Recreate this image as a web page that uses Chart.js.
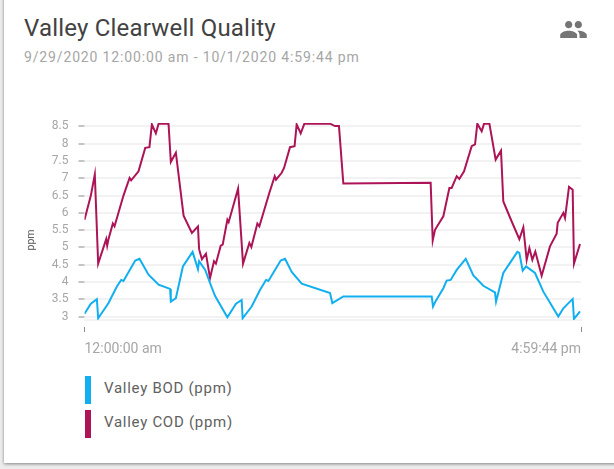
<!DOCTYPE html>
<html><head><meta charset="utf-8">
<script src="https://cdn.jsdelivr.net/npm/chart.js@4"></script>
<style>
html,body{margin:0;padding:0;width:614px;height:469px;overflow:hidden;background:#ececec;font-family:Roboto,sans-serif}
#card{position:absolute;left:4px;top:-4px;width:620px;height:467px;background:#fff;box-shadow:0 1px 3px rgba(0,0,0,.45)}
.abs{position:absolute;white-space:nowrap}
#title{left:24px;top:14px;font-size:24px;line-height:28px;color:#424242;letter-spacing:.2px}
#sub{left:24px;top:49px;font-size:14px;line-height:17px;color:#a6a6a6;letter-spacing:.85px}
#icon{left:559px;top:15px}
#chartbox{position:absolute;left:0;top:100px;width:614px;height:270px}
#ylab{left:20px;top:233px;width:22px;text-align:center;font-size:10.5px;line-height:14px;color:#555;transform:rotate(-90deg)}
.sw{position:absolute;left:85px;width:6px;height:28px}
.lg{left:104px;font-size:15px;line-height:20px;color:#616161;letter-spacing:.72px}
</style></head><body>
<div id="card"></div>
<div class="abs" id="title">Valley Clearwell Quality</div>
<div class="abs" id="sub">9/29/2020 12:00:00 am - 10/1/2020 4:59:44 pm</div>
<svg class="abs" id="icon" width="29" height="29" viewBox="0 0 24 24"><path fill="#757575" d="M16 11c1.66 0 2.99-1.34 2.99-3S17.66 5 16 5c-1.66 0-3 1.34-3 3s1.34 3 3 3zm-8 0c1.66 0 2.99-1.34 2.99-3S9.66 5 8 5C6.34 5 5 6.34 5 8s1.34 3 3 3zm0 2c-2.33 0-7 1.17-7 3.5V19h14v-2.5c0-2.33-4.67-3.5-7-3.5zm8 0c-.29 0-.62.02-.97.05 1.16.84 1.97 1.97 1.97 3.45V19h6v-2.5c0-2.33-4.67-3.5-7-3.5z"/></svg>
<div id="chartbox"><canvas id="c" width="614" height="270"></canvas></div>
<div class="abs" id="ylab">ppm</div>
<div id="legend"></div>
<script>
const bodHours=[0,.83,1.62,1.79,2.84,3.14,4.24,4.8,5.1,6.64,7.2,8.38,9.7,11.2,11.3,11.96,12.88,14.15,14.85,15,15.8,16.43,17.08,18.7,19.83,20.57,20.7,21.88,22.97,23.76,24.07,25.68,26.25,27.12,28.43,32.14,32.44,33.88,45.45,45.62,46,46.97,47.4,47.93,48.72,49.9,50.9,52.2,53.73,53.87,54.82,56.66,56.92,57.36,57.8,58.97,60.06,62.02,62.68,63.9,64.07,64.86];
const bodValues=[3.08,3.37,3.5,2.95,3.29,3.39,3.87,4.06,4.03,4.62,4.67,4.21,3.92,3.8,3.43,3.53,4.45,4.87,4.37,4.6,4.35,3.97,3.6,2.98,3.37,3.48,2.95,3.29,3.77,4.06,4.03,4.62,4.67,4.29,3.95,3.68,3.39,3.58,3.58,3.29,3.46,3.82,4.04,4.06,4.35,4.67,4.19,3.89,3.7,3.43,4.26,4.87,4.84,4.33,4.45,4.26,3.72,3,3.24,3.51,2.93,3.15];
const codHours=[0,.83,1.35,1.79,2.84,2.97,3.14,3.71,3.93,5.1,5.9,6.11,7.07,7.95,8.5,8.82,9.34,9.7,11,11.3,11.96,12.97,14.06,14.85,15,15.37,15.9,16.43,16.95,17.2,17.83,18.09,18.7,18.87,20.1,20.75,21.58,21.84,22.63,22.89,24.2,24.9,25.07,25.81,26.12,26.9,27.5,27.77,28.3,28.78,32.14,32.79,33.31,33.88,45.31,45.58,45.88,46.97,47.76,48.06,48.72,49.07,49.68,50.68,51.12,51.42,51.99,52.3,53,53.82,54.52,54.82,55.92,56.92,57.44,57.88,58.23,58.62,59.01,59.84,60.93,61.8,61.94,62.68,62.9,63.42,63.9,64.07,64.86];
const codValues=[5.8,6.5,7.11,4.53,5.24,5.05,5.24,5.69,5.61,6.5,7.01,6.94,7.2,7.88,7.9,8.56,8.3,8.58,8.58,7.47,7.74,5.92,5.42,5.61,4.95,4.66,4.82,4.11,4.6,4.53,5.05,5.08,5.8,5.73,6.7,4.53,5.13,5.01,5.69,5.61,6.58,7.06,6.96,7.16,7.3,7.9,7.93,8.56,8.3,8.58,8.58,8.51,8.51,6.85,6.87,5.2,5.51,5.9,6.72,6.72,7.06,6.98,7.2,7.93,7.98,8.58,8.36,8.58,8.58,7.54,7.8,6.33,5.75,5.24,5.58,4.64,4.98,4.64,4.88,4.18,5.03,5.4,5.71,6,5.85,6.75,6.67,4.53,5.1];
const yTickValues=[3,3.5,4,4.5,5,5.5,6,6.5,7,7.5,8,8.5];
const xTickValues=[0,64.99];
const xTickLabels=['12:00:00 am','4:59:44 pm'];
const seriesNames=['Valley BOD (ppm)','Valley COD (ppm)'];
const seriesColors=['#12aff0','#ad1457'];

const toPts=(h,v)=>h.map((x,i)=>({x,y:v[i]}));
new Chart(document.getElementById('c'),{
 type:'line',
 data:{datasets:[
  {label:seriesNames[0],data:toPts(bodHours,bodValues),borderColor:seriesColors[0],borderWidth:2,pointRadius:0,tension:0},
  {label:seriesNames[1],data:toPts(codHours,codValues),borderColor:seriesColors[1],borderWidth:2,pointRadius:0,tension:0}
 ]},
 options:{responsive:false,animation:false,
  layout:{padding:{left:24,right:33,top:23,bottom:0}},
  plugins:{legend:{display:false},tooltip:{enabled:false},title:{display:false}},
  scales:{
   x:{type:'linear',min:0,max:64.99,
    afterBuildTicks:s=>{s.ticks=xTickValues.map(value=>({value}))},
    afterFit:s=>{s.height=50},
    grid:{drawOnChartArea:false,tickColor:'#8a8a8a',tickLength:12,tickWidth:1,tickBorderDash:[6,6],tickBorderDashOffset:6},
    border:{display:true,color:'#f2f2f2',width:2},
    ticks:{autoSkip:false,maxRotation:0,align:'inner',color:'#a6a6a6',padding:9,font:{family:'Roboto',size:14},
     callback:(v,i)=>xTickLabels[i]}
   },
   y:{min:2.9,max:8.6,
    afterBuildTicks:s=>{s.ticks=yTickValues.map(value=>({value}))},
    afterFit:s=>{s.width=60.5},
    grid:{color:'#f2f2f2',lineWidth:2,tickColor:'#8a8a8a',tickLength:12,tickWidth:1,tickBorderDash:[6,6],tickBorderDashOffset:6},
    border:{display:false},
    ticks:{autoSkip:false,color:'#a6a6a6',padding:4,font:{family:'Roboto',size:12},callback:v=>String(v)}
   }
  }
 }
});
const lg=document.getElementById('legend');
const tops=[376,410];
seriesNames.forEach((n,i)=>{
 const s=document.createElement('div');s.className='sw';s.style.top=tops[i]+'px';s.style.background=seriesColors[i];lg.appendChild(s);
 const t=document.createElement('div');t.className='abs lg';t.style.top=(tops[i]+2)+'px';t.textContent=n;lg.appendChild(t);
});
</script></body></html>
